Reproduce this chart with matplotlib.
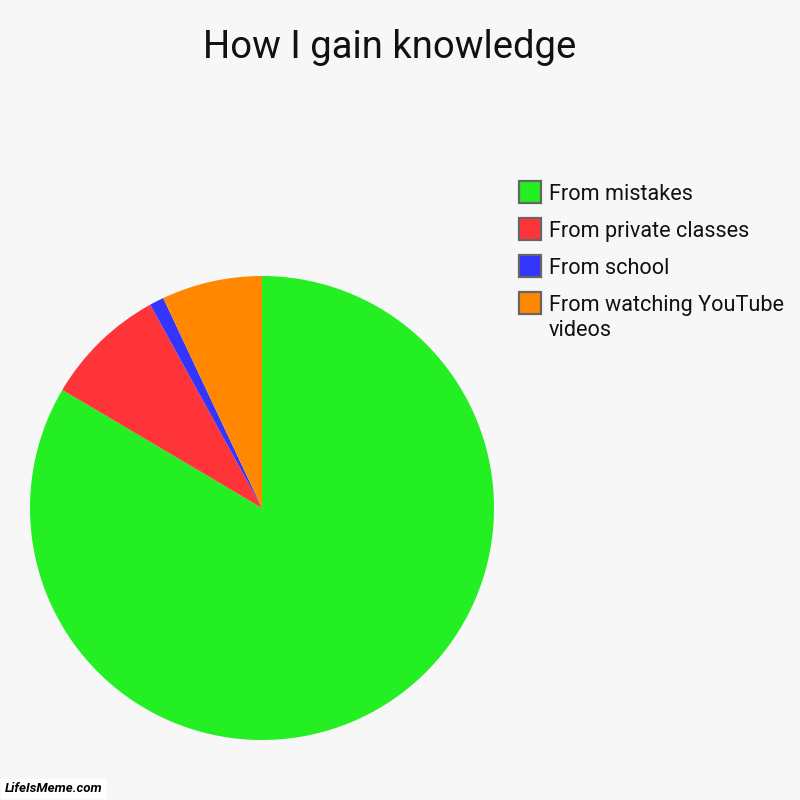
import matplotlib.pyplot as plt
from matplotlib.patches import Rectangle

title = 'How I gain knowledge'
labels = ['From mistakes', 'From private classes', 'From school', 'From watching YouTube\nvideos']
values = [83.5, 8.5, 1.0, 7.0]
colors = ['#23ef23', '#ff3439', '#3434ff', '#ff8800']

bg = '#f7f7f7'
plt.rcParams['font.family'] = ['Roboto', 'DejaVu Sans']

fig = plt.figure(figsize=(8, 8), dpi=100, facecolor=bg)

# pie: center (262, 508) px, radius 232 px
ax = fig.add_axes([30 / 800, 60 / 800, 464 / 800, 464 / 800])
ax.set_facecolor(bg)
ax.pie(values, colors=colors, startangle=90, counterclock=False,
       radius=1, wedgeprops=dict(linewidth=0, antialiased=True))
ax.set_xlim(-1, 1)
ax.set_ylim(-1, 1)
ax.set_aspect('equal')
ax.axis('off')

fig.text(390 / 800, 1 - 58 / 800, title, ha='center', va='baseline',
         fontsize=27.5, color='#111111')

# legend drawn by hand to match the reference layout
row_y = [192, 229, 266, 303]
for lab, col, y in zip(labels, colors, row_y):
    fig.patches.append(Rectangle((519 / 800, 1 - (y + 11) / 800), 22 / 800, 22 / 800,
                                 transform=fig.transFigure, facecolor=col,
                                 edgecolor='#666666', linewidth=1.6))
    # va='baseline' anchors the last line, so shift multi-line labels down
    base = y + 7.5 + 25 * lab.count('\n')
    fig.text(549 / 800, 1 - base / 800, lab, ha='left', va='baseline',
             fontsize=15.6, color='#111111', linespacing=1.25)

fig.text(5 / 800, 1 - 789 / 800, 'LifeIsMeme.com', ha='left', va='center',
         fontsize=9.5, fontweight='bold', fontstyle='italic', color='black',
         bbox=dict(boxstyle='square,pad=0.3', facecolor='white', edgecolor='none'))

fig.savefig('out.png', dpi=100, facecolor=bg)
